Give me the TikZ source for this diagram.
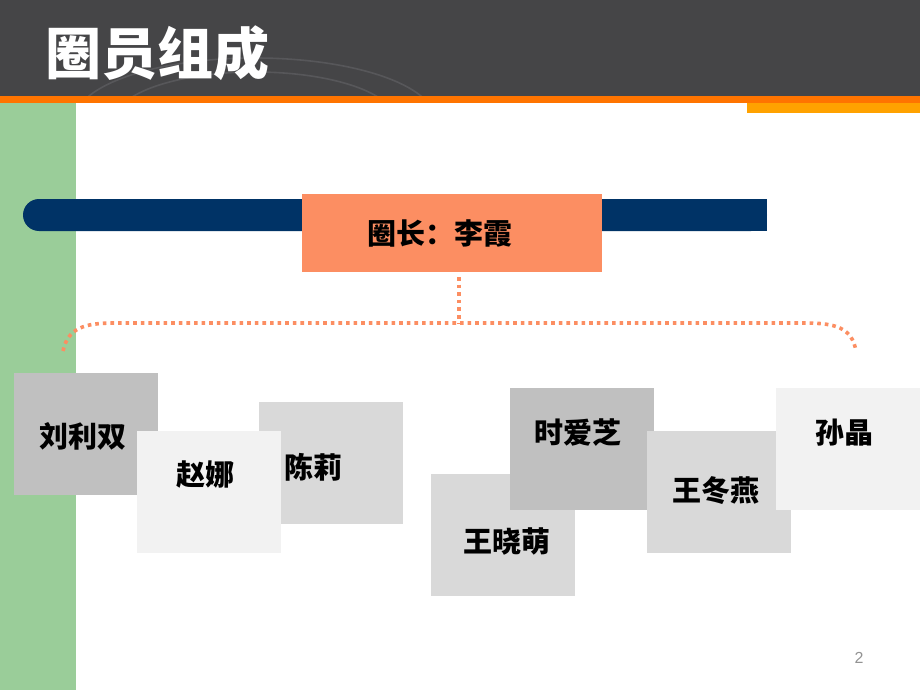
\documentclass[tikz,border=0pt]{standalone}
\usepackage{fontspec}
\newfontfamily\cjk{Noto Sans CJK SC}
\setsansfont{Liberation Sans}
\begin{document}
\begin{tikzpicture}[x=1pt,y=-1pt,
  namebox/.style={anchor=north west,inner sep=0pt,outer sep=0pt,minimum width=144pt,minimum height=122pt},
  nametext/.style={font=\cjk\bfseries\fontsize{29}{29}\selectfont,text=black,inner sep=0pt},
  dots/.style={draw=dotc,line width=3.6pt,dash pattern=on 3.6pt off 4pt}]
\definecolor{hdr}{HTML}{454547}
\definecolor{arcc}{HTML}{57575A}
\definecolor{stripe}{HTML}{FF7400}
\definecolor{ablock}{HTML}{FFA200}
\definecolor{greenc}{HTML}{9ACD99}
\definecolor{navy}{HTML}{003366}
\definecolor{salmon}{HTML}{FC8E62}
\definecolor{dotc}{HTML}{FC8E62}
\definecolor{g1}{HTML}{C0C0C0}
\definecolor{g2}{HTML}{D9D9D9}
\definecolor{g3}{HTML}{F2F2F2}
\useasboundingbox (0,0) rectangle (920,690);
\fill[white] (0,0) rectangle (920,690);
% header
\fill[hdr] (0,0) rectangle (920,96);
\begin{scope}
\clip (0,0) rectangle (920,96);
\draw[arcc,line width=1.6pt] (255,120) ellipse [x radius=180,y radius=62];
\draw[arcc,line width=1.6pt] (255,120) ellipse [x radius=140,y radius=48];
\end{scope}
\fill[stripe] (0,96) rectangle (920,103);
\fill[ablock] (747,103) rectangle (920,113);
\node[font=\cjk\bfseries\fontsize{56}{56}\selectfont,text=white,anchor=west,inner sep=0pt] (title) at (45,53) {圈员组成};
% green strip
\fill[greenc] (0,103) rectangle (76,690);
% navy bar
\fill[navy,rounded corners=16pt] (23,199) rectangle (767,231);
\fill[navy] (700,199) rectangle (767,231);
% leader box
\node[fill=salmon,anchor=north west,minimum width=300pt,minimum height=78pt,inner sep=0pt] (lead) at (302,194) {};
\node[nametext] (leadt) at (440,233) {圈长：李霞};
% dotted bracket
\coordinate (top) at (459,277);
\coordinate (mid) at (459,323);
\coordinate (lend) at (63,351);
\coordinate (rend) at (856,351);
\draw[dots] (top) -- (mid);
\draw[dots] (lend) .. controls (68,328) and (84,323) .. (115,323) -- (805,323) .. controls (836,323) and (852,328) .. (rend);
% member boxes
\node[namebox,fill=g1] (b1) at (14,373) {};
\node[namebox,fill=g2] (b3) at (259,402) {};
\node[namebox,fill=g3] (b2) at (137,431) {};
\node[nametext] (t1) at (83,436) {刘利双};
\node[nametext] (t2) at (205,475) {赵娜};
\node[nametext] (t3) at (313,467) {陈莉};
\node[namebox,fill=g2] (b4) at (431,474) {};
\node[namebox,fill=g1] (b5) at (510,388) {};
\node[namebox,fill=g2] (b6) at (647,431) {};
\node[namebox,fill=g3] (b7) at (776,388) {};
\node[nametext] (t4) at (507,541) {王晓萌};
\node[nametext] (t5) at (578,433) {时爱芝};
\node[nametext] (t6) at (716,491) {王冬燕};
\node[nametext] (t7) at (844,433) {孙晶};
% page number
\node[font=\sffamily\fontsize{16}{16}\selectfont,text=gray!85,inner sep=0pt] (pg) at (859,658) {2};
\end{tikzpicture}
\end{document}
